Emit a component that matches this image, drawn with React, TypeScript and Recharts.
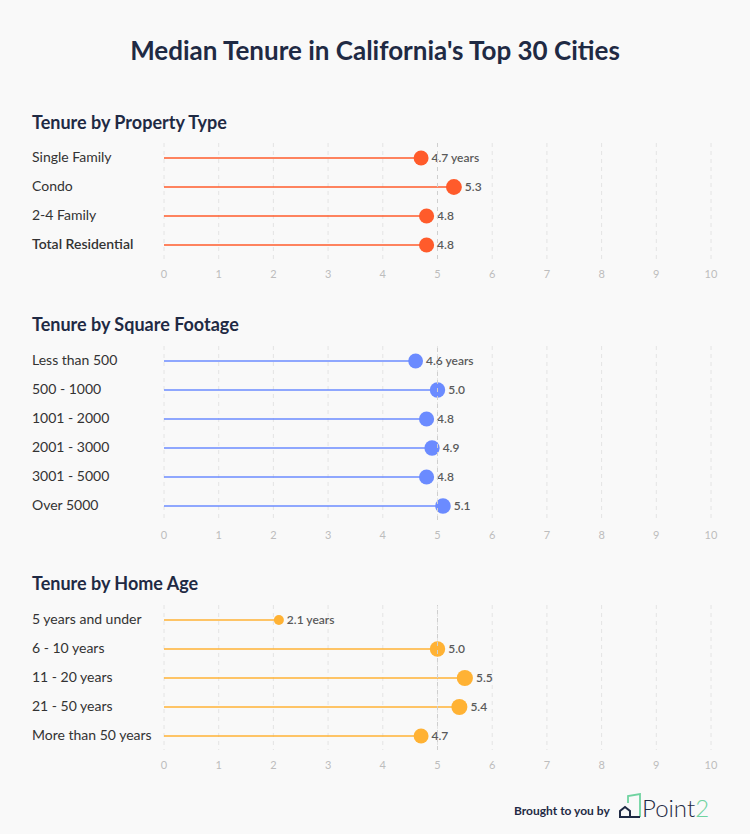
import { ComposedChart, Bar, XAxis, YAxis, CartesianGrid, ReferenceLine } from "recharts";

const FONT = "Lato, 'Open Sans', sans-serif";
const NAVY = "#1f2a44";

const propertyTypes = ["Single Family", "Condo", "2-4 Family", "Total Residential"];
const propertyTenure = [4.7, 5.3, 4.8, 4.8];

const footageRanges = ["Less than 500", "500 - 1000", "1001 - 2000", "2001 - 3000", "3001 - 5000", "Over 5000"];
const footageTenure = [4.6, 5.0, 4.8, 4.9, 4.8, 5.1];

const homeAges = ["5 years and under", "6 - 10 years", "11 - 20 years", "21 - 50 years", "More than 50 years"];
const ageTenure = [2.1, 5.0, 5.5, 5.4, 4.7];

const xTicks = [0, 1, 2, 3, 4, 5, 6, 7, 8, 9, 10];

const ROW = 29;

// line from 0 to value, bubble sized by value, value label to the right
const Lollipop = (props: any) => {
  const { x, y, width, height, payload, fill } = props;
  const cy = y + height / 2;
  const end = x + width;
  const r = 3.45 * Math.sqrt(payload.value);
  const text = payload.first ? `${payload.value.toFixed(1)} years` : payload.value.toFixed(1);
  return (
    <g>
      <line x1={x} y1={cy} x2={end} y2={cy} stroke={fill} strokeWidth={1.3} />
      <circle cx={end} cy={cy} r={r} fill={fill} />
      <text x={end + r + 3} y={cy} dy="0.35em" fontSize={12} fontWeight={600} fill="#5a5a5a" fontFamily={FONT}>
        {text}
      </text>
    </g>
  );
};

const CategoryTick = (props: any) => {
  const { y, payload } = props;
  const bold = payload.value === "Total Residential";
  return (
    <text x={32} y={y} dy="0.3em" textAnchor="start" fontSize={14} fontWeight={bold ? 600 : 400} fill="#333" fontFamily={FONT}>
      {payload.value}
    </text>
  );
};

interface SectionProps {
  title: string;
  titleTop: number;
  chartTop: number;
  categories: string[];
  values: number[];
  color: string;
}

function Section({ title, titleTop, chartTop, categories, values, color }: SectionProps) {
  const data = categories.map((name, i) => ({ name, value: values[i], first: i === 0 }));
  const plotH = categories.length * ROW;
  return (
    <>
      <div
        style={{
          position: "absolute",
          left: 32,
          top: titleTop,
          fontSize: 18,
          fontWeight: 700,
          color: NAVY,
          fontFamily: FONT,
          lineHeight: "20px",
        }}
      >
        {title}
      </div>
      <div style={{ position: "absolute", left: 0, top: chartTop }}>
        <ComposedChart
          width={750}
          height={plotH + 30}
          data={data}
          layout="vertical"
          margin={{ top: 0, right: 39, bottom: 0, left: 0 }}
        >
          <CartesianGrid horizontal={false} strokeDasharray="4 4" stroke="#e4e4e4" />
          <ReferenceLine x={5} stroke="#cfcfcf" strokeDasharray="4 4" />
          <XAxis
            type="number"
            domain={[0, 10]}
            ticks={xTicks}
            axisLine={false}
            tickLine={false}
            tickMargin={5}
            height={30}
            tick={{ fontSize: 11, fill: "#bdbdbd", fontFamily: FONT }}
          />
          <YAxis type="category" dataKey="name" width={164} axisLine={false} tickLine={false} tick={<CategoryTick />} />
          <Bar dataKey="value" fill={color} barSize={2} shape={<Lollipop />} isAnimationActive={false} />
        </ComposedChart>
      </div>
    </>
  );
}

export default function App() {
  return (
    <div style={{ position: "absolute", left: 0, top: 0, width: 750, height: 834, background: "#f9f9f9", overflow: "hidden" }}>
      <div
        style={{
          position: "absolute",
          left: 0,
          top: 33,
          width: 750,
          textAlign: "center",
          fontSize: 26,
          fontWeight: 700,
          color: NAVY,
          fontFamily: FONT,
          lineHeight: "34px",
        }}
      >
        Median Tenure in California's Top 30 Cities
      </div>

      <Section title="Tenure by Property Type" titleTop={112} chartTop={143} categories={propertyTypes} values={propertyTenure} color="#ff5b2b" />
      <Section title="Tenure by Square Footage" titleTop={314} chartTop={346} categories={footageRanges} values={footageTenure} color="#6b8bff" />
      <Section title="Tenure by Home Age" titleTop={573} chartTop={605} categories={homeAges} values={ageTenure} color="#ffb234" />

      <div style={{ position: "absolute", left: 514, top: 803, fontSize: 12, fontWeight: 700, color: NAVY, fontFamily: FONT, lineHeight: "16px" }}>
        Brought to you by
      </div>
      <svg style={{ position: "absolute", left: 618, top: 793 }} width={130} height={34}>
        <path d="M10 10 L10 3 L22 1 L22 24" fill="none" stroke="#6fd3a0" strokeWidth={1.8} />
        <path d="M2 24 L2 18 L7 14 L12 18 L12 24 Z" fill="none" stroke={NAVY} strokeWidth={2} />
        <path d="M10 24 L22 24" stroke={NAVY} strokeWidth={2} />
        <text x={24} y={24} fontSize={24} fontFamily={FONT} fontWeight={300} fill={NAVY}>
          Point<tspan fill="#6fd3a0">2</tspan>
        </text>
      </svg>
    </div>
  );
}
